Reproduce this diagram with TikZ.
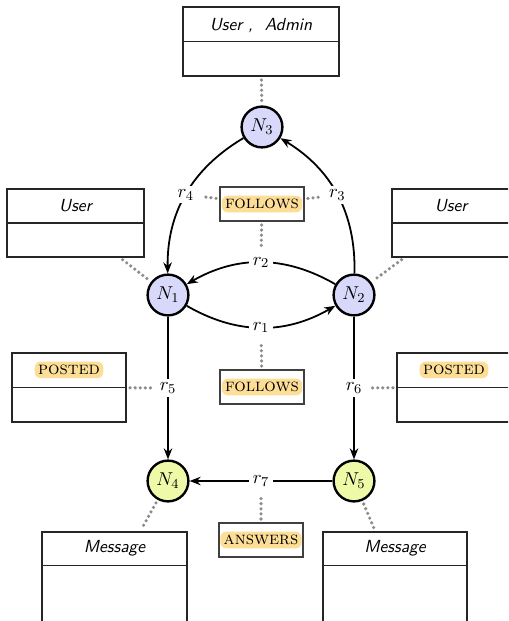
\documentclass[tikz,border=0pt]{standalone}
\usetikzlibrary{arrows.meta,calc}
\definecolor{nblue}{RGB}{216,216,250}
\definecolor{nyel}{RGB}{238,250,168}
\definecolor{hlc}{RGB}{253,222,150}
\definecolor{dotc}{RGB}{140,140,140}
\begin{document}
\begin{tikzpicture}[x=0.5882pt,y=-0.5882pt,
 sz/.style 2 args={minimum width=#1*0.5882pt, minimum height=#2*0.5882pt},
 ent/.style={circle, draw, line width=1.4pt, minimum size=24pt, inner sep=0pt, font=\fontsize{11}{13}\selectfont},
 umlbox/.style={draw=black!85, line width=0.75pt, fill=white, inner sep=0pt},
 divl/.style={draw=black!85, line width=0.75pt},
 relbox/.style={draw=black!75, line width=0.7pt, fill=white, inner sep=0pt, sz={84}{34}},
 hl/.style={fill=hlc, rounded corners=3.5pt, inner sep=2pt, font=\fontsize{10.6}{12}\selectfont\scshape},
 ttl/.style={font=\fontsize{10.3}{12}\selectfont\sffamily\itshape},
 lab/.style={fill=white, inner sep=2pt, font=\fontsize{11}{13}\selectfont},
 rel/.style={line width=1.05pt, -{Stealth[length=6.5pt,width=5pt]}},
 dots/.style={dotc, line width=2.1pt, line cap=round, dash pattern=on 0pt off 3pt, shorten <=2pt, shorten >=2pt}]
\useasboundingbox (0,0) rectangle (508,621);
\clip (0,0) rectangle (508,621);

% entity nodes
\node[ent, fill=nblue] (N3) at (262,127) {$N_3$};
\node[ent, fill=nblue] (N1) at (168,295) {$N_1$};
\node[ent, fill=nblue] (N2) at (354,295) {$N_2$};
\node[ent, fill=nyel] (N4) at (168,481) {$N_4$};
\node[ent, fill=nyel] (N5) at (354,481) {$N_5$};

% relationships
\draw[rel] (N3) to[bend right=30] node[lab] (r4) {$r_4$} (N1);
\draw[rel] (N2) to[bend right=30] node[lab] (r3) {$r_3$} (N3);
\draw[rel] (N2) to[bend right=30] node[lab] (r2) {$r_2$} (N1);
\draw[rel] (N1) to[bend right=30] node[lab] (r1) {$r_1$} (N2);
\draw[rel] (N1) -- node[lab] (r5) {$r_5$} (N4);
\draw[rel] (N2) -- node[lab] (r6) {$r_6$} (N5);
\draw[rel] (N5) -- node[lab] (r7) {$r_7$} (N4);

% relationship type boxes
\node[relbox] (f1) at (262,204) {}; \node[hl] at (f1) {follows};
\node[relbox] (f2) at (262,387) {}; \node[hl] at (f2) {follows};
\node[relbox] (an) at (261,540) {}; \node[hl] at (an) {answers};

% label boxes
\node[umlbox, sz={156}{69}] (tb) at (261,41.5) {};
\draw[divl] (tb.west) -- (tb.east);
\node[ttl] at ($(tb.north)!0.5!(tb.center)+(0,1.5)$) {User\ ,\ \ Admin};

\node[umlbox, sz={137}{68}] (ul) at (75.5,223) {};
\draw[divl] (ul.west) -- (ul.east);
\node[ttl] at ($(ul.north)!0.5!(ul.center)$) {User};

\node[umlbox, sz={118}{68}] (ur) at (451,223) {};
\draw[divl] (ur.west) -- (ur.east);
\node[ttl] at ($(ur.north)!0.5!(ur.center)$) {User};

\node[umlbox, sz={114}{69}] (pl) at (69,387.5) {};
\draw[divl] (pl.west) -- (pl.east);
\node[hl] at ($(pl.north)!0.5!(pl.center)$) {posted};

\node[umlbox, sz={114}{69}] (pr) at (454,387.5) {};
\draw[divl] (pr.west) -- (pr.east);
\node[hl] at ($(pr.north)!0.5!(pr.center)$) {posted};

\node[umlbox, sz={145}{92}] (ml) at (114.5,578) {};
\draw[divl] ($(ml.north west)+(0,34)$) -- ($(ml.north east)+(0,34)$);
\node[ttl] at ($(ml.north)+(0,17)$) {Message};

\node[umlbox, sz={144}{92}] (mr) at (395,578) {};
\draw[divl] ($(mr.north west)+(0,34)$) -- ($(mr.north east)+(0,34)$);
\node[ttl] at ($(mr.north)+(0,17)$) {Message};

% dotted attachments
\draw[dots] (tb) -- (N3);
\draw[dots] (ul) -- (N1);
\draw[dots] (ur) -- (N2);
\draw[dots] (N4) -- (ml);
\draw[dots] (N5) -- (mr);
\draw[dots] (f1) -- (r4);
\draw[dots] (f1) -- (r3);
\draw[dots] (f1) -- (r2);
\draw[dots] (f2) -- (r1);
\draw[dots] (an) -- (r7);
\draw[dots] (pl) -- (r5);
\draw[dots] (pr) -- (r6);
\end{tikzpicture}
\end{document}
